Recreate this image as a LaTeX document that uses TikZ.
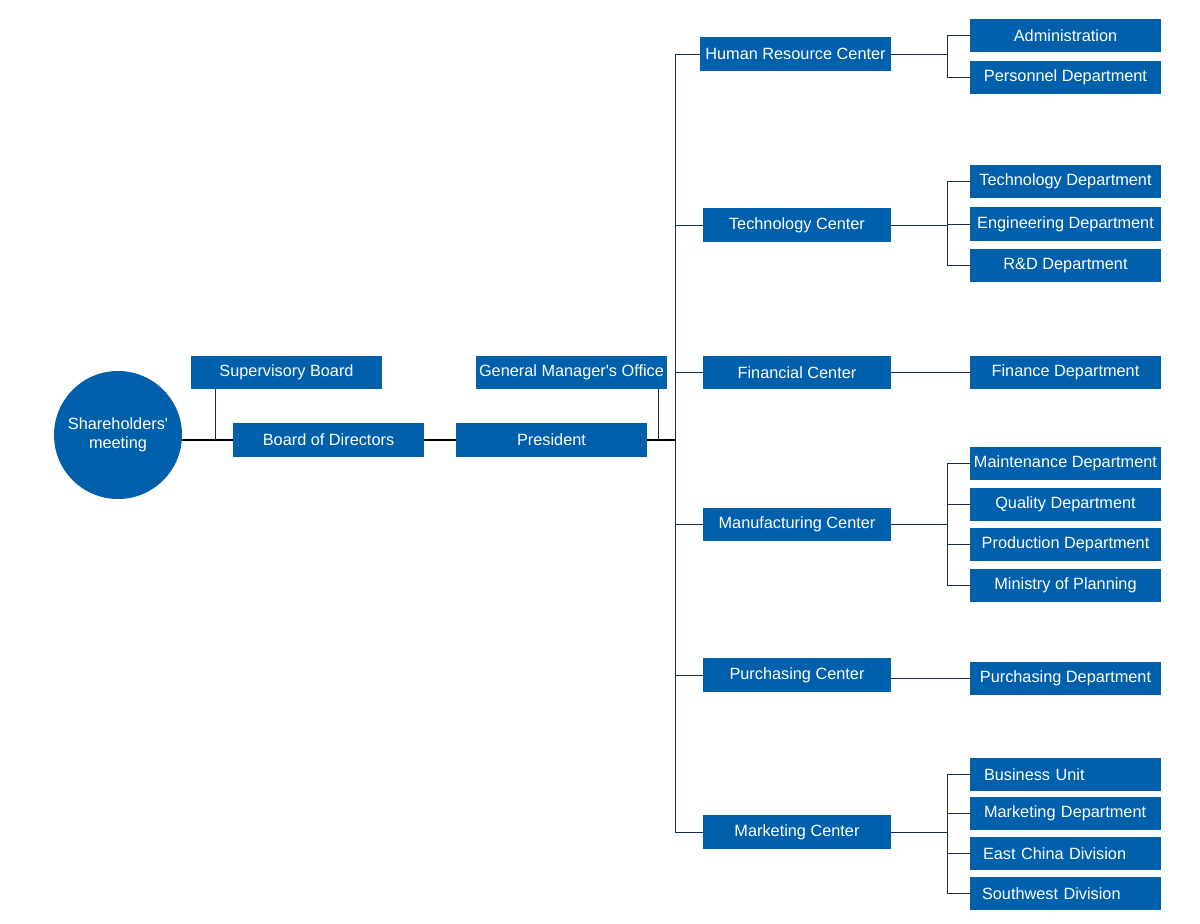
\documentclass[tikz,border=0pt]{standalone}
\usepackage{fontspec}
\setmainfont{Liberation Sans}
\definecolor{boxblue}{HTML}{0060AC}
\definecolor{navy}{HTML}{1A2B5F}
\begin{document}
\begin{tikzpicture}[x=1pt,y=-1pt,
  box/.style={fill=boxblue, text=white, minimum width=191pt, minimum height=33pt, inner sep=0pt, font=\fontsize{16.3}{18.5}\selectfont},
  lbox/.style={box, align=left, text width=177pt, inner xsep=7pt},
  cbox/.style={box, minimum width=188pt},
  link/.style={draw=navy, line width=1pt},
  main/.style={draw=black, line width=2pt}]
\useasboundingbox (0,0) rectangle (1200,924);
% left part
\node[circle, fill=boxblue, text=white, minimum size=128pt, inner sep=0pt, align=center, font=\fontsize{16.3}{18.5}\selectfont] (sh) at (118,435) {Shareholders\textquotesingle\\meeting};
\node[box] (sup) at (286.5,372.5) {Supervisory Board};
\node[box, minimum height=34pt] (bod) at (328.5,440) {Board of Directors};
\node[box, minimum height=34pt] (pres) at (551.5,440) {President};
\node[box] (gmo) at (571.5,372.5) {General Manager\textquotesingle s Office};
% centers
\node[box, minimum height=34pt] (hr) at (795.5,54) {Human Resource Center};
\node[cbox, minimum height=34pt] (tc) at (797,225) {Technology Center};
\node[cbox] (fc) at (797,372.5) {Financial Center};
\node[cbox] (mc) at (797,524.5) {Manufacturing Center};
\node[cbox, minimum height=34pt] (pc) at (797,675) {Purchasing Center};
\node[cbox, minimum height=34pt] (mk) at (797,832) {Marketing Center};
% departments
\node[box] (adm) at (1065.5,35.5) {Administration};
\node[box] (per) at (1065.5,77.5) {Personnel Department};
\node[box] (tcd) at (1065.5,181.5) {Technology Department};
\node[box, minimum height=34pt] (eng) at (1065.5,224) {Engineering Department};
\node[box] (rd) at (1065.5,265.5) {R\&D Department};
\node[box] (fin) at (1065.5,372.5) {Finance Department};
\node[box] (mnt) at (1065.5,463.5) {Maintenance Department};
\node[box] (qua) at (1065.5,504.5) {Quality Department};
\node[box] (pro) at (1065.5,544.5) {Production Department};
\node[box] (min) at (1065.5,585.5) {Ministry of Planning};
\node[box] (pud) at (1065.5,678.5) {Purchasing Department};
\node[lbox] (bu) at (1065.5,774.5) {\hspace{7pt}Business Unit};
\node[lbox] (mkd) at (1065.5,813.5) {\hspace{7pt}Marketing Department};
\node[lbox] (ec) at (1065.5,853.5) {\hspace{6pt}East China Division};
\node[lbox] (sw) at (1065.5,893.5) {\hspace{5pt}Southwest Division};
% junction coordinates
\coordinate (j1) at (215,440);
\coordinate (j2) at (658,440);
\coordinate (t) at (675,440);
\coordinate (b) at (947,0);
% main chain
\draw[main] (sh.east |- bod.west) -- (bod.west);
\draw[link] (j1) -- (j1 |- sup.south);
\draw[main] (bod.east) -- (pres.west);
\draw[main] (pres.east) -- (t);
\draw[link] (j2) -- (j2 |- gmo.south);
% trunk
\draw[link] (hr.west -| t) -- (mk.west -| t);
\foreach \c in {hr,tc,fc,mc,pc,mk} \draw[link] (\c.west -| t) -- (\c.west);
% HR
\draw[link] (hr.east) -- (hr.east -| b);
\draw[link] (adm.west -| b) -- (per.west -| b);
\foreach \d in {adm,per} \draw[link] (\d.west -| b) -- (\d.west);
% Technology
\draw[link] (tc.east) -- (tc.east -| b);
\draw[link] (tcd.west -| b) -- (rd.west -| b);
\foreach \d in {tcd,eng,rd} \draw[link] (\d.west -| b) -- (\d.west);
% Financial
\draw[link] (fc.east) -- (fin.west);
% Manufacturing
\draw[link] (mc.east) -- (mc.east -| b);
\draw[link] (mnt.west -| b) -- (min.west -| b);
\foreach \d in {mnt,qua,pro,min} \draw[link] (\d.west -| b) -- (\d.west);
% Purchasing
\draw[link] (pud.west -| pc.east) -- (pud.west);
% Marketing
\draw[link] (mk.east) -- (mk.east -| b);
\draw[link] (bu.west -| b) -- (sw.west -| b);
\foreach \d in {bu,mkd,ec,sw} \draw[link] (\d.west -| b) -- (\d.west);
\end{tikzpicture}
\end{document}
